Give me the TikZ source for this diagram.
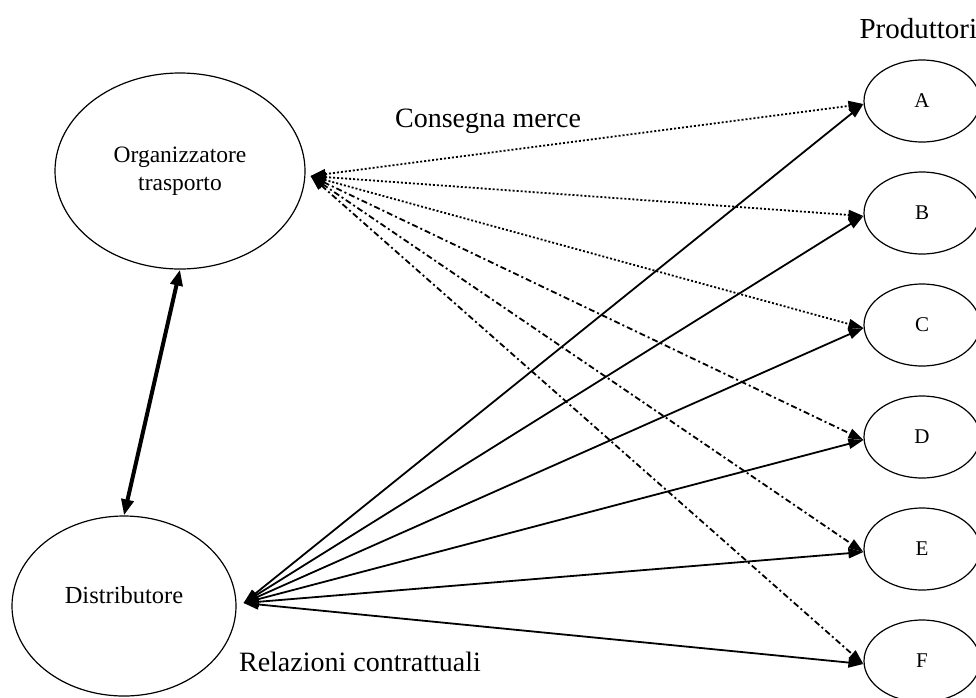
\documentclass[tikz,border=0pt]{standalone}
\usepackage{fontspec}
\setmainfont{Liberation Serif}
\usetikzlibrary{shapes.geometric,arrows.meta,calc}

\begin{document}
\begin{tikzpicture}[x=1pt,y=-1pt,
  actor/.style={ellipse,draw,line width=1.2pt,inner sep=0pt,align=center},
  prod/.style={actor,minimum width=116pt,minimum height=82pt,
    font=\fontsize{21}{21}\selectfont},
  tip/.tip={Triangle[length=15pt,width=10pt]},
  contract/.style={tip-tip,line width=1.8pt},
  delivery/.style={tip-tip,line width=1.8pt,dash pattern=on 2pt off 2pt},
  delivery2/.style={tip-tip,line width=1.8pt,dash pattern=on 6pt off 3pt on 2pt off 3pt},
  link/.style={{Triangle[length=16pt,width=12pt]}-{Triangle[length=16pt,width=12pt]},line width=4pt},
  caption/.style={font=\fontsize{28}{28}\selectfont}
]
\useasboundingbox (0,0) rectangle (976,697);

% main actors
\node[actor,minimum width=250pt,minimum height=196pt,
      font=\fontsize{23.5}{28}\selectfont] (org) at (180,171) {Organizzatore\\trasporto};
\node[actor,minimum width=224pt,minimum height=180pt,
      font=\fontsize{24.5}{28}\selectfont,text depth=22pt] (dist) at (124,606) {Distributore};

% producers
\foreach \n [count=\i from 0] in {A,B,C,D,E,F}
  \node[prod] (p\n) at (922,{101+112*\i}) {\n};

\node[anchor=west,font=\fontsize{29}{29}\selectfont] (prodtitle) at (856,29) {Produttori};

% hubs where the connectors meet
\coordinate (oh) at ($(org.east)+(5,5)$);
\coordinate (dh) at ($(dist.east)+(7,-3)$);

% delivery of goods
\foreach \n in {A,B,C}
  \draw[delivery] (oh) -- ($(p\n.west)+(0,3)$);
\foreach \n in {D,E,F}
  \draw[delivery2] (oh) -- ($(p\n.west)+(0,3)$);

% contractual relations
\foreach \n in {A,B,C,D,E,F}
  \draw[contract] (dh) -- ($(p\n.west)+(0,3)$);

% organizer <-> distributor
\draw[link] (org.south) -- (dist.north);

% captions
\node[caption] (cm) at (488,121) {Consegna merce};
\node[caption] (rc) at (360,662) {Relazioni contrattuali};
\end{tikzpicture}
\end{document}
